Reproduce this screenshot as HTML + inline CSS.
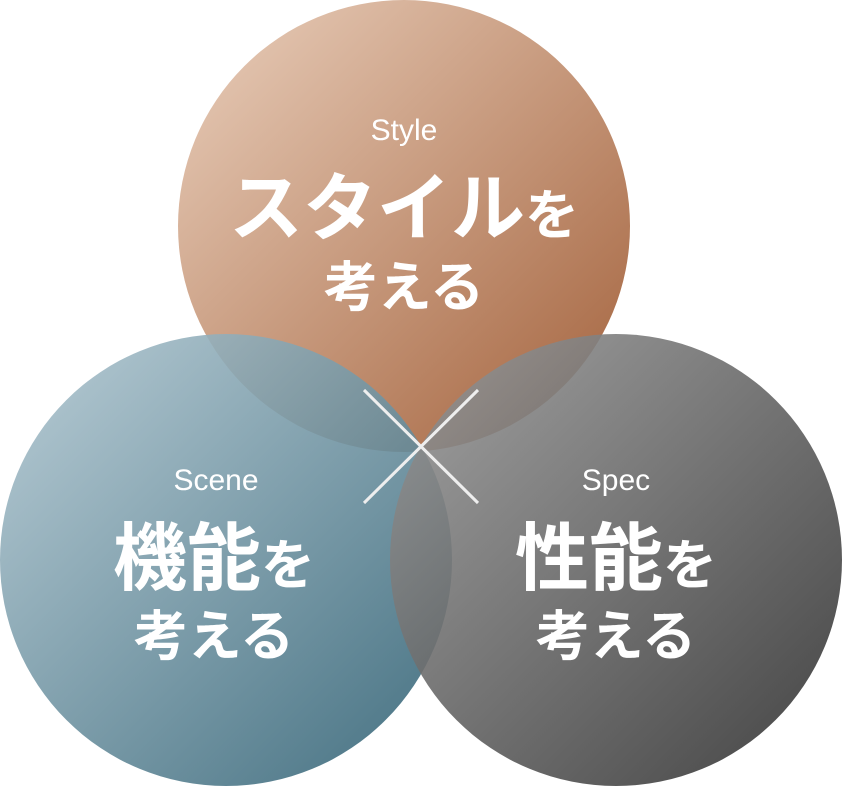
<!DOCTYPE html>
<html><head><meta charset="utf-8"><style>
html,body{margin:0;padding:0;background:#fff;}
svg{display:block;}
text{font-family:"Liberation Sans","Noto Sans CJK JP",sans-serif;fill:#fff;text-anchor:middle;}
.en{font-size:30px;font-weight:300;}
.jp{font-family:"Noto Sans CJK JP",sans-serif;font-weight:700;}
</style></head><body>
<svg width="842" height="786" viewBox="0 0 842 786" xmlns="http://www.w3.org/2000/svg">
<defs>
<linearGradient id="gt" x1="0" y1="0" x2="1" y2="1">
<stop offset="0" stop-color="#ead0bd"/><stop offset="1" stop-color="#a2603a"/></linearGradient>
<linearGradient id="gl" x1="0" y1="0" x2="1" y2="1">
<stop offset="0" stop-color="#b2c8d2"/><stop offset="1" stop-color="#2e5f72"/></linearGradient>
<linearGradient id="gr" x1="0" y1="0" x2="1" y2="1">
<stop offset="0" stop-color="#9a9a9a"/><stop offset="1" stop-color="#2e2e2e"/></linearGradient>
</defs>
<circle cx="404" cy="226" r="226" fill="url(#gt)"/>
<circle cx="226" cy="560" r="226" fill="url(#gl)" opacity="0.9"/>
<circle cx="616" cy="560" r="226" fill="url(#gr)" opacity="0.9"/>
<g stroke="#eeeeee" stroke-width="3">
<line x1="364" y1="390" x2="478" y2="503"/>
<line x1="478" y1="390" x2="364" y2="503"/>
</g>
<text class="en" x="404" y="140">Style</text>
<text class="jp" x="404" y="234" font-size="74">スタイル<tspan font-size="54">を</tspan></text>
<text class="jp" x="404" y="306" font-size="54">考える</text>
<text class="en" x="216" y="490">Scene</text>
<text class="jp" x="214" y="584" font-size="74">機能<tspan font-size="54">を</tspan></text>
<text class="jp" x="214" y="655" font-size="54">考える</text>
<text class="en" x="616" y="490">Spec</text>
<text class="jp" x="616" y="584" font-size="74">性能<tspan font-size="54">を</tspan></text>
<text class="jp" x="616" y="655" font-size="54">考える</text>
</svg>
</body></html>
